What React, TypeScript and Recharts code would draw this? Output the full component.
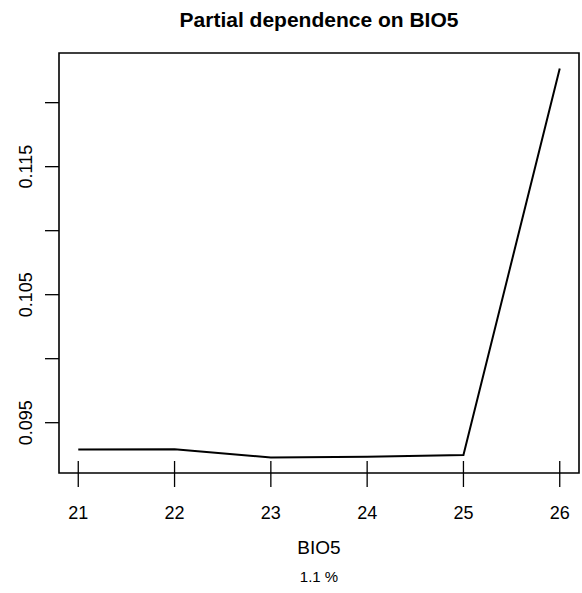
import { LineChart, Line, XAxis, YAxis, ReferenceArea } from 'recharts';

const BIO5_VALUES = [21, 22, 23, 24, 25, 26];
const RESPONSE = [0.0929, 0.09292, 0.09229, 0.09233, 0.09248, 0.12267];
const X_TICKS = [21, 22, 23, 24, 25, 26];
const Y_TICKS = [0.095, 0.1, 0.105, 0.11, 0.115, 0.12];
const Y_LABELLED = [0.095, 0.105, 0.115];

const X_DOMAIN: [number, number] = [20.8, 26.2];
const Y_DOMAIN: [number, number] = [0.09107, 0.12388];

const FONT = '"Liberation Sans", Arial, Helvetica, sans-serif';

const data = BIO5_VALUES.map((x, i) => ({ x, y: RESPONSE[i] }));

interface TickProps {
  x?: number;
  y?: number;
  payload?: { value: number };
}

// x ticks: rug mark inside the box plus outward tick, like R's plot + rug
function XTick({ x = 0, y = 0, payload }: TickProps) {
  return (
    <g>
      <line x1={x} x2={x} y1={y - 12} y2={y + 14} stroke="#000" strokeWidth={1.3} />
      <text x={x} y={y + 46} textAnchor="middle" fontSize={18} fontFamily={FONT} fill="#000">
        {payload?.value}
      </text>
    </g>
  );
}

function YTick({ x = 0, y = 0, payload }: TickProps) {
  const v = payload?.value ?? 0;
  const show = Y_LABELLED.some((t) => Math.abs(t - v) < 1e-9);
  return (
    <g>
      <line x1={x - 14} x2={x} y1={y} y2={y} stroke="#000" strokeWidth={1.3} />
      {show && (
        <text
          x={x - 27}
          y={y}
          transform={`rotate(-90 ${x - 27} ${y})`}
          textAnchor="middle"
          fontSize={18}
          fontFamily={FONT}
          fill="#000"
        >
          {v.toFixed(3)}
        </text>
      )}
    </g>
  );
}

export default function App() {
  return (
    <div style={{ position: 'relative', width: 582, height: 593, background: '#fff', fontFamily: FONT }}>
      <style>{'body{margin:0}'}</style>
      <div
        style={{
          position: 'absolute',
          left: 59,
          width: 520,
          top: 8,
          textAlign: 'center',
          fontSize: 21,
          fontWeight: 'bold',
          lineHeight: '24px',
        }}
      >
        Partial dependence on BIO5
      </div>
      <LineChart width={582} height={593} data={data} margin={{ top: 53, right: 3, bottom: 0, left: 0 }}>
        <XAxis
          dataKey="x"
          type="number"
          domain={X_DOMAIN}
          ticks={X_TICKS}
          allowDataOverflow
          axisLine={false}
          tickLine={false}
          tickSize={0}
          tickMargin={0}
          height={120}
          tick={<XTick />}
        />
        <YAxis
          type="number"
          domain={Y_DOMAIN}
          ticks={Y_TICKS}
          allowDataOverflow
          axisLine={false}
          tickLine={false}
          tickSize={0}
          tickMargin={0}
          width={59}
          tick={<YTick />}
        />
        <ReferenceArea
          x1={X_DOMAIN[0]}
          x2={X_DOMAIN[1]}
          y1={Y_DOMAIN[0]}
          y2={Y_DOMAIN[1]}
          fill="none"
          stroke="#000"
          strokeWidth={1.6}
          ifOverflow="visible"
        />
        <Line
          type="linear"
          dataKey="y"
          stroke="#000"
          strokeWidth={2}
          dot={false}
          isAnimationActive={false}
        />
      </LineChart>
      <div
        style={{
          position: 'absolute',
          left: 59,
          width: 520,
          top: 537,
          textAlign: 'center',
          fontSize: 19,
          lineHeight: '22px',
        }}
      >
        BIO5
      </div>
      <div
        style={{
          position: 'absolute',
          left: 59,
          width: 520,
          top: 568,
          textAlign: 'center',
          fontSize: 15,
          lineHeight: '18px',
        }}
      >
        1.1 %
      </div>
    </div>
  );
}
